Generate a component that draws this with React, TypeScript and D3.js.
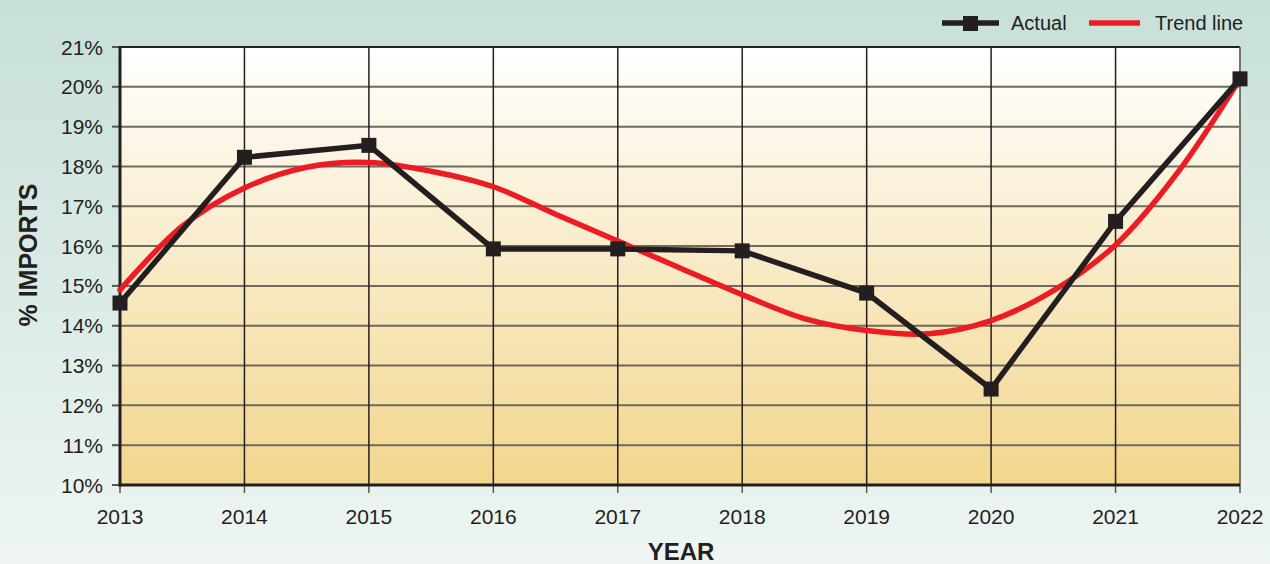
import React from "react";
import * as d3 from "d3";

const years = [2013, 2014, 2015, 2016, 2017, 2018, 2019, 2020, 2021, 2022];
const actual = [14.57, 18.23, 18.53, 15.93, 15.93, 15.88, 14.82, 12.41, 16.62, 20.2];
const trendYears = [2013, 2013.5, 2014, 2014.5, 2015, 2015.5, 2016, 2016.5, 2017, 2017.5, 2018, 2018.5, 2019, 2019.5, 2020, 2020.5, 2021, 2021.5, 2022];
const trendValues = [14.9, 16.5, 17.46, 17.98, 18.1, 17.88, 17.49, 16.8, 16.13, 15.45, 14.78, 14.18, 13.88, 13.8, 14.13, 14.88, 16.03, 17.85, 20.2];
const yTicks = [10, 11, 12, 13, 14, 15, 16, 17, 18, 19, 20, 21];

const W = 1270, H = 564;
const L = 120, R = 1240, T = 47, B = 485;

export default function App() {
  const x = d3.scaleLinear().domain([2013, 2022]).range([L, R]);
  const y = d3.scaleLinear().domain([10, 21]).range([B, T]);
  const actualLine = d3.line<number>().x((_, i) => x(years[i])).y((d) => y(d));
  const trendLine = d3
    .line<number>()
    .x((_, i) => x(trendYears[i]))
    .y((d) => y(d))
    .curve(d3.curveCatmullRom.alpha(0.5));
  const font = "'Liberation Sans', Arial, Helvetica, sans-serif";
  const ms = 15;
  return (
    <svg width={W} height={H} style={{ position: "absolute", left: 0, top: 0, display: "block" }} fontFamily={font}>
      <defs>
        <linearGradient id="bg" x1="0" y1="0" x2="0" y2="1">
          <stop offset="0" stopColor="#c7e0d8" />
          <stop offset="1" stopColor="#eef5f2" />
        </linearGradient>
        <linearGradient id="plot" x1="0" y1="0" x2="0" y2="1">
          <stop offset="0" stopColor="#ffffff" />
          <stop offset="1" stopColor="#f2d68d" />
        </linearGradient>
      </defs>
      <rect x={0} y={0} width={W} height={H} fill="url(#bg)" />
      <rect x={L} y={T} width={R - L} height={B - T} fill="url(#plot)" />
      {yTicks.map((t) => (
        <g key={t}>
          <line x1={L} x2={R} y1={y(t)} y2={y(t)} stroke="#6f6a5e" strokeWidth={2} />
          <line x1={L - 8} x2={L} y1={y(t)} y2={y(t)} stroke="#555" strokeWidth={2} />
          <text x={103} y={y(t) + 7.5} textAnchor="end" fontSize={21} fill="#231f20">
            {t}%
          </text>
        </g>
      ))}
      {years.map((yr) => (
        <g key={yr}>
          <line x1={x(yr)} x2={x(yr)} y1={T} y2={B} stroke="#231f20" strokeWidth={1.5} />
          <line x1={x(yr)} x2={x(yr)} y1={B} y2={B + 8} stroke="#555" strokeWidth={1.5} />
          <text x={x(yr)} y={524} textAnchor="middle" fontSize={21} fill="#231f20">
            {yr}
          </text>
        </g>
      ))}
      <line x1={L} x2={R} y1={T} y2={T} stroke="#231f20" strokeWidth={2} />
      <line x1={R} x2={R} y1={T} y2={B} stroke="#77736a" strokeWidth={2} />
      <line x1={L} x2={L} y1={T - 1} y2={B + 1.5} stroke="#231f20" strokeWidth={3} />
      <line x1={L - 1.5} x2={R} y1={B} y2={B} stroke="#231f20" strokeWidth={3} />
      <path d={trendLine(trendValues) || ""} fill="none" stroke="#ed1c24" strokeWidth={5.5} strokeLinecap="round" />
      <path d={actualLine(actual) || ""} fill="none" stroke="#231f20" strokeWidth={5.5} strokeLinejoin="miter" />
      {actual.map((v, i) => (
        <rect key={i} x={x(years[i]) - ms / 2} y={y(v) - ms / 2} width={ms} height={ms} fill="#231f20" />
      ))}
      <text x={681} y={560} textAnchor="middle" fontSize={24} fontWeight="bold" fill="#231f20">
        YEAR
      </text>
      <text
        transform={`translate(37,255) rotate(-90)`}
        textAnchor="middle"
        fontSize={25}
        fontWeight="bold"
        fill="#231f20"
      >
        % IMPORTS
      </text>
      <line x1={942} x2={999} y1={23} y2={23} stroke="#231f20" strokeWidth={5.5} />
      <rect x={963} y={16} width={15} height={15} fill="#231f20" />
      <text x={1011} y={30} fontSize={20} fill="#231f20">
        Actual
      </text>
      <line x1={1089} x2={1140} y1={23} y2={23} stroke="#ed1c24" strokeWidth={5.5} />
      <text x={1155} y={30} fontSize={20} fill="#231f20">
        Trend line
      </text>
    </svg>
  );
}
